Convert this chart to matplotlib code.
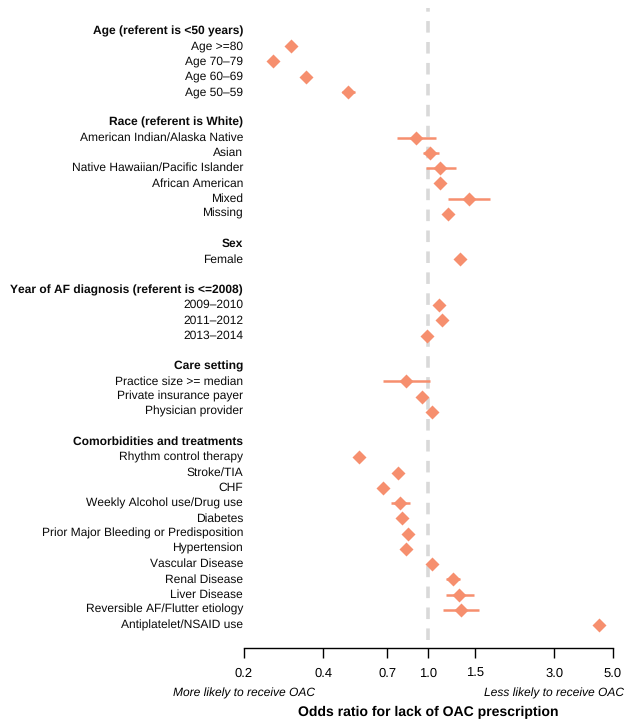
import numpy as np
import matplotlib.pyplot as plt

plt.rcParams['font.family'] = ['Liberation Sans', 'DejaVu Sans']
plt.rcParams['text.hinting'] = 'no_hinting'
plt.rcParams['text.hinting_factor'] = 1

# grupos y variables (None en la estimacion = fila de encabezado)
etiquetas = [
    'Age (referent is <50 years)', 'Age >=80', 'Age 70–79', 'Age 60–69', 'Age 50–59', '',
    'Race (referent is White)', 'American Indian/Alaska Native', 'Asian',
    'Native Hawaiian/Pacific Islander', 'African American', 'Mixed', 'Missing', '',
    'Sex', 'Female', '',
    'Year of AF diagnosis (referent is <=2008)', '2009–2010', '2011–2012', '2013–2014', '',
    'Care setting', 'Practice size >= median', 'Private insurance payer', 'Physician provider', '',
    'Comorbidities and treatments', 'Rhythm control therapy', 'Stroke/TIA', 'CHF',
    'Weekly Alcohol use/Drug use', 'Diabetes', 'Prior Major Bleeding or Predisposition',
    'Hypertension', 'Vascular Disease', 'Renal Disease', 'Liver Disease',
    'Reversible AF/Flutter etiology', 'Antiplatelet/NSAID use',
]
encabezados = ['Age (referent is <50 years)', 'Race (referent is White)', 'Sex',
               'Year of AF diagnosis (referent is <=2008)', 'Care setting',
               'Comorbidities and treatments']

odds = [None, 0.302, 0.259, 0.345, 0.498, None,
        None, 0.899, 1.018, 1.108, 1.110, 1.428, 1.191, None,
        None, 1.323, None,
        None, 1.099, 1.128, 0.992, None,
        None, 0.822, 0.947, 1.034, None,
        None, 0.547, 0.768, 0.676, 0.784, 0.798, 0.841, 0.822, 1.034,
        1.238, 1.312, 1.331, 4.44]
ic_bajo = [None, 0.29, 0.25, 0.33, 0.47, None,
           None, 0.76, 0.953, 0.978, 1.08, 1.191, 1.16, None,
           None, 1.29, None,
           None, 1.07, 1.10, 0.97, None,
           None, 0.672, 0.92, 1.00, None,
           None, 0.53, 0.75, 0.66, 0.723, 0.78, 0.82, 0.80, 1.01,
           1.168, 1.165, 1.135, 4.3]
ic_alto = [None, 0.315, 0.27, 0.36, 0.53, None,
           None, 1.067, 1.10, 1.271, 1.14, 1.715, 1.22, None,
           None, 1.36, None,
           None, 1.13, 1.16, 1.01, None,
           None, 1.016, 0.97, 1.06, None,
           None, 0.56, 0.79, 0.69, 0.853, 0.82, 0.86, 0.84, 1.06,
           1.32, 1.487, 1.562, 4.6]

ticks = [0.2, 0.4, 0.7, 1.0, 1.5, 3.0, 5.0]
tick_labels = ['0.2', '0.4', '0.7', '1.0', '1.5', '3.0', '5.0']

color = '#F68F6E'
fs = 8.9

fig = plt.figure(figsize=(6.33, 7.26), dpi=100)
W, H = 633, 726
x0, x1 = 243.7, 612.7
ytop, ybot = 8, 648
ax = fig.add_axes([x0 / W, 1 - ybot / H, (x1 - x0) / W, (ybot - ytop) / H])

n = len(etiquetas)
ax.set_xscale('log')
ax.set_xlim(0.2, 5.0)
ax.set_ylim(n + 0.51, -1.51)

ax.axvline(1.0, ymin=0.51 / (n + 2.02), ymax=1.0, color='#d9d9d9',
           lw=2.6, dashes=(3.2, 2.6), zorder=1)

for i, (lab, o, lo, hi) in enumerate(zip(etiquetas, odds, ic_bajo, ic_alto)):
    if lab:
        peso = 'bold' if lab in encabezados else 'normal'
        ax.text(-0.002, i, lab, transform=ax.get_yaxis_transform(), ha='right',
                va='center', fontsize=fs, fontweight=peso, color='#0a0a0a')
    if o is not None:
        ax.plot([lo, hi], [i, i], color=color, lw=1.8, solid_capstyle='butt', zorder=2)
        ax.plot(o, i, marker='D', color=color, ms=7.3, mec='none', zorder=3)

for s in ['top', 'right', 'left']:
    ax.spines[s].set_visible(False)
ax.spines['bottom'].set_linewidth(1.0)
ax.set_yticks([])
ax.set_xticks(ticks)
ax.set_xticklabels(tick_labels, fontsize=9.7)
ax.xaxis.set_minor_locator(plt.NullLocator())
ax.tick_params(axis='x', length=7, width=1.0, pad=7)

tr = ax.get_xaxis_transform()
ax.text(0.2, -0.071, 'More likely to receive OAC', transform=tr, ha='center', va='center',
        style='italic', fontsize=fs)
ax.text(3.0, -0.071, 'Less likely to receive OAC', transform=tr, ha='center', va='center',
        style='italic', fontsize=fs)
ax.text(1.0, -0.1, 'Odds ratio for lack of OAC prescription', transform=tr, ha='center',
        va='center', fontweight='bold', fontsize=9.75)

fig.savefig('out.png', dpi=100)
